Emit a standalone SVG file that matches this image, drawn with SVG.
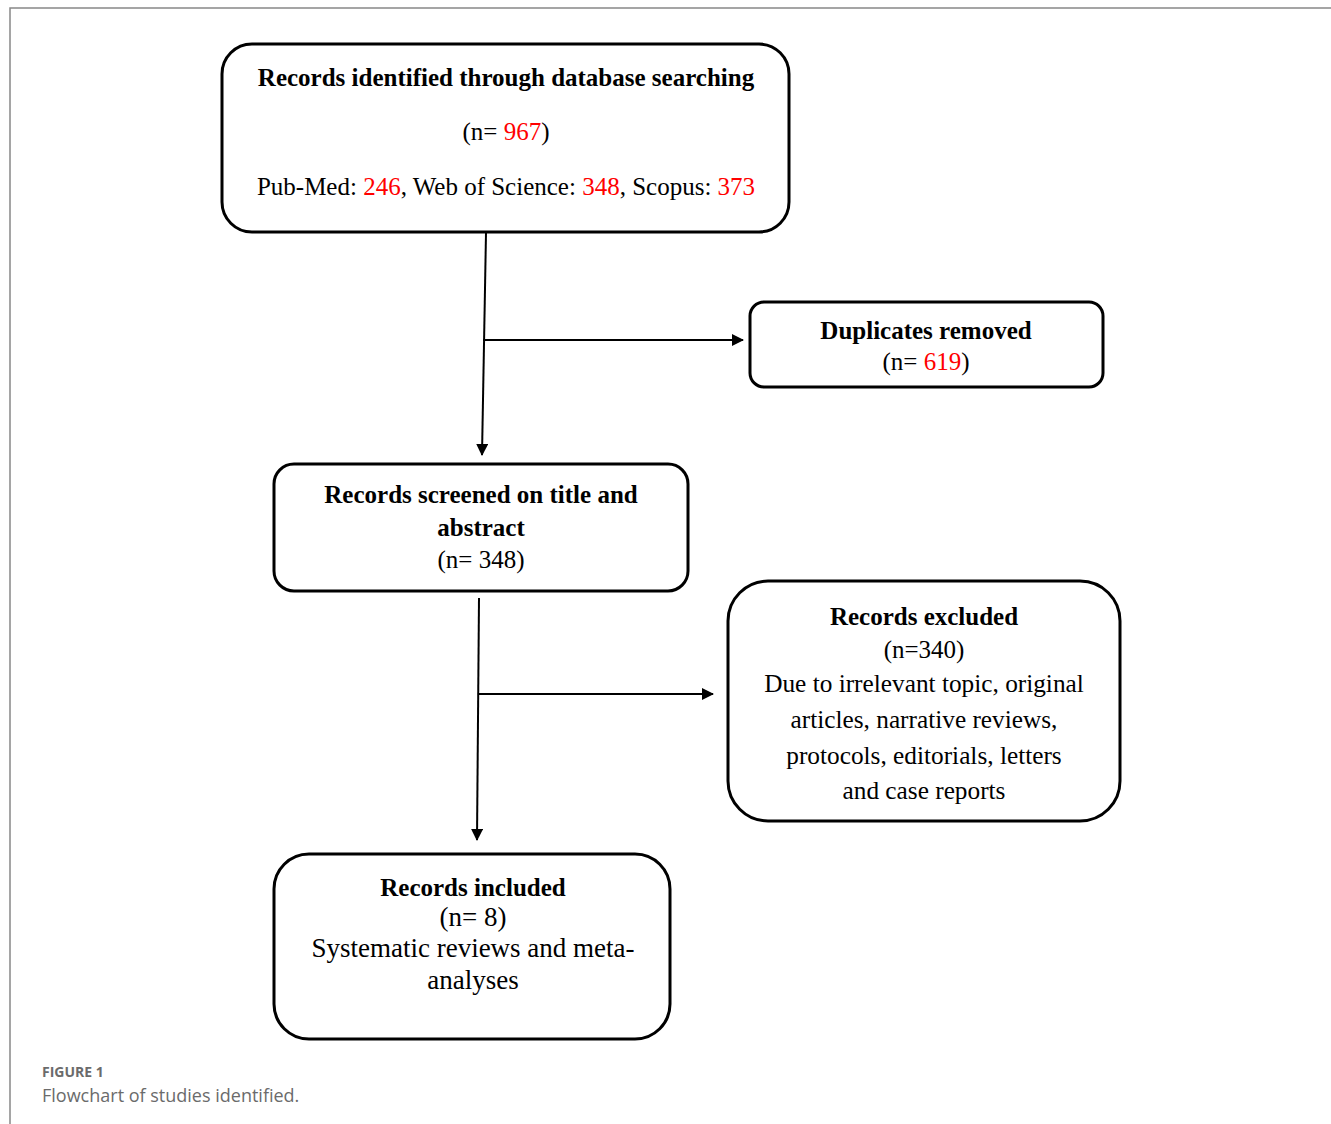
<svg xmlns="http://www.w3.org/2000/svg" width="1331" height="1124" viewBox="0 0 1331 1124">
<style>
.box{fill:#fff;stroke:#000;stroke-width:3}
.t{font-family:"Liberation Serif","Times New Roman",serif;font-size:25px;fill:#000;text-anchor:middle}
.b{font-weight:bold}
.r{fill:#ff0000}
.c{stroke:#000;stroke-width:2;fill:none}
.cap{font-family:"Open Sans","Liberation Sans",sans-serif;fill:#6b6b6b}
</style>
<defs>
<marker id="ah" markerWidth="12" markerHeight="12" refX="11" refY="6" orient="auto" markerUnits="userSpaceOnUse">
<path d="M0,0 L12,6 L0,12 Z" fill="#000"/>
</marker>
</defs>
<rect x="0" y="0" width="1331" height="1124" fill="#fff"/>
<path d="M10,1124 V8 H1331" fill="none" stroke="#888" stroke-width="1.5"/>
<g id="connectors">
<line class="c" x1="486" y1="233" x2="482" y2="455" marker-end="url(#ah)"/>
<line class="c" x1="483" y1="340" x2="743" y2="340" marker-end="url(#ah)"/>
<line class="c" x1="479" y1="598" x2="477" y2="840" marker-end="url(#ah)"/>
<line class="c" x1="479" y1="694" x2="713" y2="694" marker-end="url(#ah)"/>
</g>
<g id="identified">
<rect class="box" x="222" y="44" width="567" height="188" rx="30"/>
<text class="t b" x="506" y="86">Records identified through database searching</text>
<text class="t" x="506" y="140">(n= <tspan class="r">967</tspan>)</text>
<text class="t" x="506" y="195">Pub-Med: <tspan class="r">246</tspan>, Web of Science: <tspan class="r">348</tspan>, Scopus: <tspan class="r">373</tspan></text>
</g>
<g id="duplicates">
<rect class="box" x="750" y="302" width="353" height="85" rx="14"/>
<text class="t b" x="926" y="339">Duplicates removed</text>
<text class="t" x="926" y="370">(n= <tspan class="r">619</tspan>)</text>
</g>
<g id="screened">
<rect class="box" x="274" y="464" width="414" height="127" rx="20"/>
<text class="t b" x="481" y="503">Records screened on title and</text>
<text class="t b" x="481" y="536">abstract</text>
<text class="t" x="481" y="568">(n= 348)</text>
</g>
<g id="excluded">
<rect class="box" x="728" y="581" width="392" height="240" rx="40"/>
<text class="t b" x="924" y="625">Records excluded</text>
<text class="t" x="924" y="658">(n=340)</text>
<text class="t" x="924" y="692" style="font-size:25.3px">Due to irrelevant topic, original</text>
<text class="t" x="924" y="728" style="font-size:25.3px">articles, narrative reviews,</text>
<text class="t" x="924" y="764" style="font-size:25.3px">protocols, editorials, letters</text>
<text class="t" x="924" y="799" style="font-size:25.3px">and case reports</text>
</g>
<g id="included">
<rect class="box" x="274" y="854" width="396" height="185" rx="35"/>
<text class="t b" x="473" y="896">Records included</text>
<text class="t" x="473" y="926" style="font-size:27px">(n= 8)</text>
<text class="t" x="473" y="957" style="font-size:27px">Systematic reviews and meta-</text>
<text class="t" x="473" y="989" style="font-size:27px">analyses</text>
</g>
<g id="caption">
<text class="cap" x="42" y="1077" style="font-size:14px;font-weight:bold">FIGURE 1</text>
<text class="cap" x="42" y="1102" style="font-size:18px">Flowchart of studies identified.</text>
</g>
</svg>
